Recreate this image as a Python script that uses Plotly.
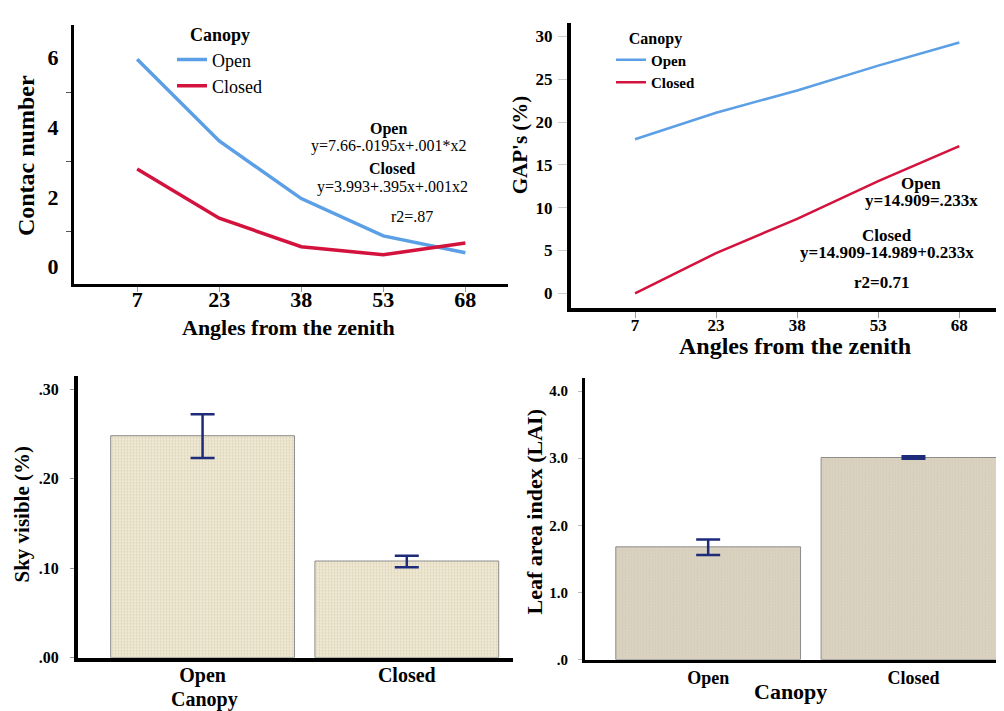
import plotly.graph_objects as go

# ---------------- data ----------------
angles = ["7", "23", "38", "53", "68"]
contact_open = [5.94, 3.60, 1.95, 0.88, 0.40]
contact_closed = [2.80, 1.39, 0.57, 0.34, 0.68]
gap_open = [18.0, 21.1, 23.7, 26.6, 29.3]
gap_closed = [0.0, 4.7, 8.7, 13.1, 17.2]
canopy = ["Open", "Closed"]
sky_mean = [0.248, 0.108]
sky_err_plus = [0.024, 0.006]
sky_err_minus = [0.025, 0.007]
lai_mean = [1.68, 3.01]
lai_err_plus = [0.11, 0.02]
lai_err_minus = [0.12, 0.02]

contact_ticks = [0, 2, 4, 6]
gap_ticks = [0, 5, 10, 15, 20, 25, 30]
sky_ticks = [0.0, 0.1, 0.2, 0.3]
sky_ticktext = [".00", ".10", ".20", ".30"]
lai_ticks = [0, 1, 2, 3, 4]
lai_ticktext = [".0", "1.0", "2.0", "3.0", "4.0"]

SERIF = "Liberation Serif, Times New Roman, serif"
BLUE = "#5b9fe6"
RED = "#d4123e"
NAVY = "#1d2b7a"

W, H = 1004, 711
def px(x):
    return x / W
def py(y):
    return 1 - y / H

fig = go.Figure()

# ---- panel 1: contact number ----
fig.add_trace(go.Scatter(x=angles, y=contact_open, mode="lines", name="Open",
                         line=dict(color=BLUE, width=3.5), xaxis="x", yaxis="y",
                         legend="legend"))
fig.add_trace(go.Scatter(x=angles, y=contact_closed, mode="lines", name="Closed",
                         line=dict(color=RED, width=3.5), xaxis="x", yaxis="y",
                         legend="legend"))
# ---- panel 2: gaps ----
fig.add_trace(go.Scatter(x=angles, y=gap_open, mode="lines", name="Open",
                         line=dict(color=BLUE, width=2.5), xaxis="x2", yaxis="y2",
                         legend="legend2"))
fig.add_trace(go.Scatter(x=angles, y=gap_closed, mode="lines", name="Closed",
                         line=dict(color=RED, width=2.5), xaxis="x2", yaxis="y2",
                         legend="legend2"))
# ---- panel 3: sky visible ----
fig.add_trace(go.Bar(x=canopy, y=sky_mean, width=0.9, xaxis="x3", yaxis="y3",
                     showlegend=False,
                     marker=dict(color="#efe8d3",
                                 pattern=dict(shape=".", bgcolor="#efe8d3",
                                              fgcolor="#c9bf9e", size=3, solidity=0.3),
                                 line=dict(color="#8c8c8c", width=1)),
                     error_y=dict(type="data", array=sky_err_plus, arrayminus=sky_err_minus,
                                  color=NAVY, thickness=2.5, width=12)))
# ---- panel 4: LAI ----
fig.add_trace(go.Bar(x=canopy, y=lai_mean, width=0.9, xaxis="x4", yaxis="y4",
                     showlegend=False,
                     marker=dict(color="#d9d2bf",
                                 pattern=dict(shape=".", bgcolor="#dad3c0",
                                              fgcolor="#cdc6b2", size=3, solidity=0.3),
                                 line=dict(color="#8c8c8c", width=1)),
                     error_y=dict(type="data", array=lai_err_plus, arrayminus=lai_err_minus,
                                  color=NAVY, thickness=2.5, width=12)))

bold = lambda s: dict(family=SERIF, size=s, color="black", weight="bold")
reg = lambda s: dict(family=SERIF, size=s, color="black")

common_x = dict(type="category", showgrid=False, zeroline=False, showline=True,
                linecolor="black", ticks="outside", tickcolor="#999999", tickwidth=1)
common_y = dict(showgrid=False, zeroline=False, showline=True, linecolor="black")

fig.update_layout(
    width=W, height=H, margin=dict(l=0, r=0, t=0, b=0),
    paper_bgcolor="white", plot_bgcolor="white",
    xaxis=dict(common_x, domain=[px(66), px(500)], anchor="y", range=[-0.77, 4.52],
               linewidth=3, ticklen=5, tickfont=bold(22), ticklabelstandoff=-12),
    yaxis=dict(common_y, domain=[py(280), py(17)], anchor="x", range=[-0.51, 6.93],
               linewidth=3, tickvals=contact_ticks, ticks="", tickfont=bold(22),
               ticklabelstandoff=8,
               minor=dict(tickvals=[1, 3, 5], ticks="outside", ticklen=5,
                          tickcolor="#555555")),
    xaxis2=dict(common_x, domain=[px(563), 1.0], anchor="y2", range=[-0.79, 4.65],
                linewidth=4, ticklen=6, tickfont=bold(17), ticklabelstandoff=-8),
    yaxis2=dict(common_y, domain=[py(304), py(15)], anchor="x2", range=[-1.73, 31.6],
                linewidth=4, tickvals=gap_ticks, ticks="outside", ticklen=9,
                tickcolor="#cccccc", tickfont=bold(17), ticklabelstandoff=2),
    xaxis3=dict(common_x, domain=[px(70), px(505)], anchor="y3", range=[-0.61, 1.52],
                linewidth=4, ticks="", tickfont=bold(20), ticklabelstandoff=-4),
    yaxis3=dict(common_y, domain=[py(658), py(373)], anchor="x3", range=[0, 0.3144],
                linewidth=4, tickvals=sky_ticks, ticktext=sky_ticktext, ticks="outside",
                ticklen=4, tickcolor="#999999", tickfont=bold(16), ticklabelstandoff=8),
    xaxis4=dict(common_x, domain=[px(577), 1.0], anchor="y4", range=[-0.6, 1.48],
                linewidth=3, ticks="", tickfont=bold(18)),
    yaxis4=dict(common_y, domain=[py(660), py(375)], anchor="x4", range=[0, 4.19],
                linewidth=3, tickvals=lai_ticks, ticktext=lai_ticktext, ticks="outside",
                ticklen=4, tickcolor="#bbbbbb", tickfont=bold(15), ticklabelstandoff=7),
    legend=dict(x=px(164), y=py(10), xanchor="left", yanchor="top",
                bgcolor="rgba(0,0,0,0)", itemwidth=30, font=reg(18),
                title=dict(text="Canopy", side="top center", font=bold(18)),
                tracegroupgap=0),
    legend2=dict(x=px(603), y=py(15), xanchor="left", yanchor="top",
                 bgcolor="rgba(0,0,0,0)", itemwidth=30, font=bold(15),
                 title=dict(text="Canopy", side="top center", font=bold(16)),
                 tracegroupgap=0),
)

ann = []
def add(text, x, y, font, angle=0):
    ann.append(dict(text=text, x=px(x), y=py(y), xref="paper", yref="paper",
                    showarrow=False, font=font, textangle=angle,
                    xanchor="center", yanchor="middle"))

# axis titles
add("Contac number", 18, 150, bold(24), -90)
add("Angles from the zenith", 280, 324, bold(22))
add("GAP's (%)", 512, 139, bold(21), -90)
add("Angles from the zenith", 787, 342, bold(24))
add("Sky visible (%)", 14, 513, bold(21), -90)
add("Canopy", 196, 700, bold(20))
add("Leaf area index (LAI)", 527, 510, bold(22), -90)
add("Canopy", 782, 692, bold(22))

# equations panel 1
add("Open", 380, 123, bold(16))
add("y=7.66-.0195x+.001*x2", 380, 140, reg(16))
add("Closed", 384, 163, bold(16))
add("y=3.993+.395x+.001x2", 384, 181, reg(16))
add("r2=.87", 404, 211, reg(16))
# equations panel 2
add("Open", 913, 178, bold(17))
add("y=14.909=.233x", 913, 195, bold(17))
add("Closed", 879, 230, bold(17))
add("y=14.909-14.989+0.233x", 879, 248, bold(17))
add("r2=0.71", 873, 278, bold(17))

fig.update_layout(annotations=ann)
fig.write_html("out.html")
